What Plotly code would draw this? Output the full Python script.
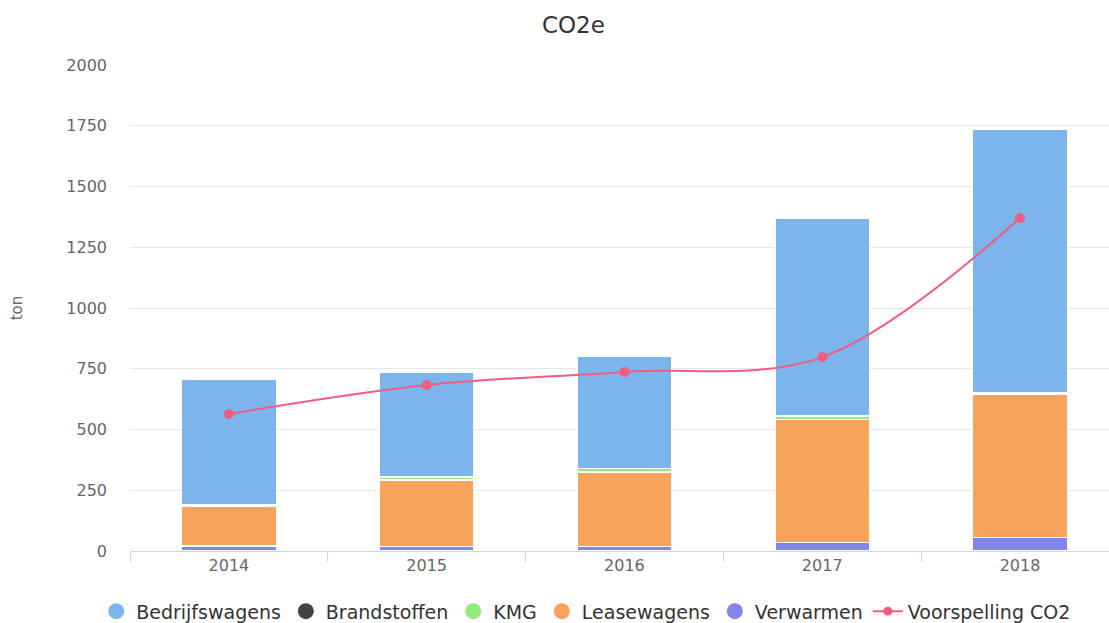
import plotly.graph_objects as go

years = ["2014", "2015", "2016", "2017", "2018"]
verwarmen = [20, 18, 18, 34, 55]
brandstoffen = [0, 0, 0, 0, 0]
kmg = [4, 12, 14, 13, 6]
leasewagens = [165, 274, 308, 508, 590]
bedrijfswagens = [519, 433, 462, 815, 1083]
voorspelling = [564, 683, 737, 798, 1370]

colors = {
    "Bedrijfswagens": "#7cb5ec",
    "Brandstoffen": "#434348",
    "KMG": "#90ed7d",
    "Leasewagens": "#f7a35c",
    "Verwarmen": "#8085e9",
    "Voorspelling CO2": "#f15c80",
}

fig = go.Figure()
# stacked bars (bottom to top)
for name, vals in [("Verwarmen", verwarmen), ("Leasewagens", leasewagens),
                   ("KMG", kmg), ("Brandstoffen", brandstoffen),
                   ("Bedrijfswagens", bedrijfswagens)]:
    fig.add_trace(go.Bar(x=years, y=vals, name=name, marker_color=colors[name],
                         marker_line=dict(color="white", width=1.5),
                         showlegend=False, width=0.48))

fig.add_trace(go.Scatter(x=years, y=voorspelling, name="Voorspelling CO2",
                         mode="lines+markers", line=dict(color=colors["Voorspelling CO2"], width=2, shape="spline"),
                         marker=dict(size=10, color=colors["Voorspelling CO2"]), showlegend=False))

# legend entries with circle symbols
for name in ["Bedrijfswagens", "Brandstoffen", "KMG", "Leasewagens", "Verwarmen"]:
    fig.add_trace(go.Scatter(x=[None], y=[None], mode="markers", name=name,
                             marker=dict(size=17, color=colors[name], symbol="circle")))
fig.add_trace(go.Scatter(x=[None], y=[None], mode="lines+markers", name="Voorspelling CO2",
                         line=dict(color=colors["Voorspelling CO2"], width=2),
                         marker=dict(size=9, color=colors["Voorspelling CO2"])))

fig.update_layout(
    width=1109, height=623,
    barmode="stack",
    paper_bgcolor="white", plot_bgcolor="white",
    font=dict(family="DejaVu Sans", color="#333333"),
    title=dict(text="CO2e", x=0.517, xanchor="center", y=0.96, yanchor="middle",
               font=dict(size=23, color="#333333")),
    margin=dict(l=130, r=0, t=65, b=72, autoexpand=False),
    legend=dict(orientation="h", x=0.466, xanchor="center", y=-0.085, yanchor="top",
                traceorder="normal", font=dict(size=19, color="#333333"), itemsizing="trace"),
    showlegend=True,
)
fig.update_yaxes(range=[0, 2000], tickvals=[0, 250, 500, 750, 1000, 1250, 1500, 1750, 2000],
                 gridcolor="#e6e6e6", gridwidth=1, zeroline=False, automargin=False,
                 tickfont=dict(size=16, color="#666666"),
                 title=dict(text="ton", font=dict(size=15, color="#666666"), standoff=40),
                 ticks="", ticklabelstandoff=22)
fig.update_xaxes(range=[-0.5, 4.45], showline=True, linecolor="#ccd6eb", linewidth=1, automargin=False,
                 ticks="outside", tickson="boundaries", ticklen=10, tickcolor="#ccd6eb",
                 tickfont=dict(size=16, color="#666666"), showgrid=False)

fig.write_html("out.html", config={"displayModeBar": False})

# remove default page margin so the figure fills the window exactly
with open("out.html", encoding="utf-8") as f:
    html = f.read()
html = html.replace("<body>", "<body style=\"margin:0;padding:0;overflow:hidden\">", 1)
with open("out.html", "w", encoding="utf-8") as f:
    f.write(html)
